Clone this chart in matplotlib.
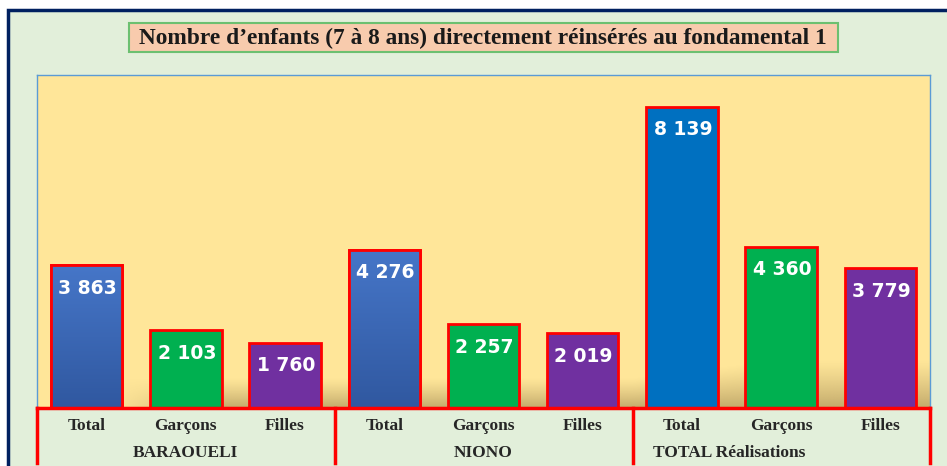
import numpy as np
import matplotlib
matplotlib.use("Agg")
import matplotlib.pyplot as plt
from matplotlib.patches import Rectangle
from matplotlib.transforms import blended_transform_factory

# ---- data ----
groups = ["BARAOUELI", "NIONO", "TOTAL Réalisations"]
categories = ["Total", "Garçons", "Filles"]
values_baraoueli = [3863, 2103, 1760]
values_niono = [4276, 2257, 2019]
values_total = [8139, 4360, 3779]
title = "Nombre d’enfants (7 à 8 ans) directement réinsérés au fondamental 1"

W, H = 947, 466
fig = plt.figure(figsize=(W / 100, H / 100), dpi=100)
fig.patch.set_facecolor("white")

def fx(x):
    return x / W

def fy(y):
    return 1 - y / H

# outer frame
fig.add_artist(Rectangle((fx(8), -0.1), 1.2, fy(10) + 0.1, transform=fig.transFigure,
                         facecolor="#E2EFDA", edgecolor="#002060", linewidth=2.5, zorder=0))

# title box
fig.add_artist(Rectangle((fx(129), fy(52)), fx(838) - fx(129), fy(23) - fy(52),
                         transform=fig.transFigure, facecolor="#F8CBAD",
                         edgecolor="#6CC070", linewidth=1.5, zorder=1))
fig.text(fx(483), fy(38), title, ha="center", va="center", fontsize=16.8,
         family="Liberation Serif", fontweight="bold", color="#1a1a1a", zorder=2)

# axes
ax = fig.add_axes([fx(37), fy(408), fx(930) - fx(37), fy(75) - fy(408)])
ax.set_facecolor("#FFE699")
for s in ["top", "left", "right"]:
    ax.spines[s].set_color("#5B9BD5")
    ax.spines[s].set_linewidth(1)
ax.spines["bottom"].set_color("red")
ax.spines["bottom"].set_linewidth(2.5)
ax.spines["bottom"].set_zorder(6)

values = values_baraoueli + values_niono + values_total
x = np.arange(len(values))
colors = ["#4472C4", "#00B050", "#7030A0", "#4472C4", "#00B050", "#7030A0",
          "#0070C0", "#00B050", "#7030A0"]
YMAX = 9000

# shadow band near the bottom
nx, ny = 400, 100
xs = np.linspace(-0.5, 8.5, nx)
ys = np.linspace(0, 1600, ny)
XX, YY = np.meshgrid(xs, ys)
hfac = np.clip((XX - 0.2) / 1.2, 0, 1)
height_scale = 800 + 500 * np.clip((XX - 5.5) / 1.5, 0, 1)
vfac = np.clip(1 - YY / height_scale, 0, 1) ** 1.2
alpha = 0.85 * hfac * vfac
img = np.zeros((ny, nx, 4))
img[..., 0] = 185 / 255
img[..., 1] = 160 / 255
img[..., 2] = 100 / 255
img[..., 3] = alpha
ax.imshow(img, extent=(-0.5, 8.5, 0, 1600), origin="lower", aspect="auto", zorder=1)

bars = ax.bar(x, values, width=0.72, color=colors, edgecolor="red", linewidth=2, zorder=3)

# gradient fill for the first two "Total" bars
top_c = np.array([70, 118, 200]) / 255
bot_c = np.array([48, 88, 160]) / 255
gimg = np.zeros((100, 1, 3))
for i in range(100):
    t = i / 99
    gimg[i, 0] = bot_c * (1 - t) + top_c * t
for idx in (0, 3):
    b = bars[idx]
    im = ax.imshow(gimg, extent=(b.get_x(), b.get_x() + b.get_width(), 0, b.get_height()),
                   origin="lower", aspect="auto", zorder=3.5)
    im.set_clip_path(b)
    ax.add_patch(Rectangle((b.get_x(), 0), b.get_width(), b.get_height(), fill=False,
                           edgecolor="red", linewidth=2, zorder=4))

for xi, v in zip(x, values):
    lab = f"{v:,}".replace(",", " ")
    ax.annotate(lab, (xi, v), xytext=(1, -23), textcoords="offset pixels",
                ha="center", va="center", color="white", fontsize=13.5,
                fontweight="bold", family="DejaVu Sans", zorder=5)

ax.set_xlim(-0.5, 8.5)
ax.set_ylim(0, YMAX)
ax.set_xticks([])
ax.set_yticks([])

# category axis area
btrans = blended_transform_factory(ax.transData, fig.transFigure)
for xi in range(9):
    fig.text(xi, fy(426), categories[xi % 3], transform=btrans, ha="center", va="center",
             fontsize=12.5, family="Liberation Serif", fontweight="bold", color="#262626")

group_x = [1, 4, 6.48]
for gx, g in zip(group_x, groups):
    fig.text(gx, fy(453), g, transform=btrans, ha="center", va="center", fontsize=12.5,
             family="Liberation Serif", fontweight="bold", color="#262626")

for px in (37, 335, 633, 930):
    fig.add_artist(plt.Line2D([fx(px), fx(px)], [fy(408), fy(463)], transform=fig.transFigure,
                              color="red", linewidth=2.5, zorder=3))

fig.savefig("out.png", dpi=100)
